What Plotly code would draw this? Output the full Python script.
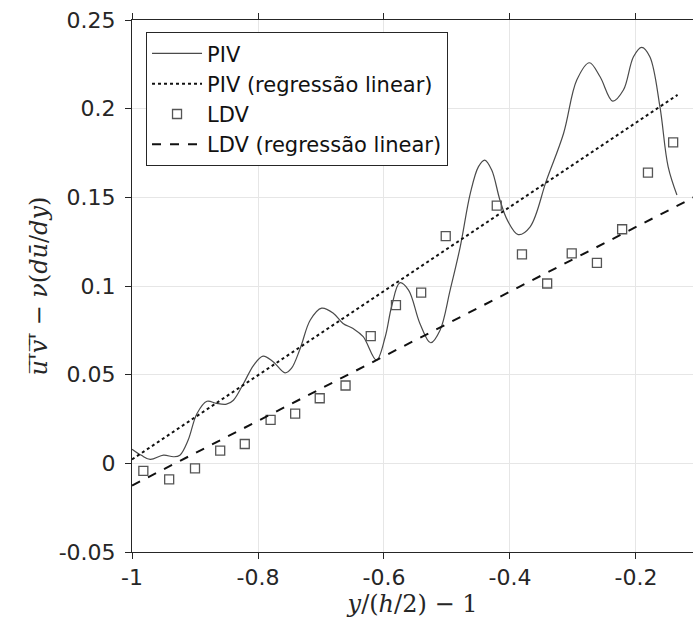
import plotly.graph_objects as go

# PIV profile (traced)
piv_x = [-1.0, -0.985, -0.971, -0.950, -0.934, -0.924, -0.911, -0.897, -0.881, -0.866,
         -0.850, -0.839, -0.823, -0.807, -0.792, -0.776, -0.757, -0.747, -0.733, -0.717,
         -0.699, -0.680, -0.665, -0.649, -0.633, -0.612, -0.598, -0.588, -0.575, -0.561,
         -0.543, -0.526, -0.511, -0.495, -0.479, -0.463, -0.450, -0.440, -0.429, -0.416,
         -0.404, -0.387, -0.368, -0.342, -0.315, -0.294, -0.274, -0.257, -0.237, -0.220,
         -0.204, -0.191, -0.178, -0.162, -0.149, -0.135]
piv_y = [0.008, 0.0045, 0.0022, 0.0046, 0.0037, 0.0046, 0.013, 0.028, 0.035, 0.0338,
         0.0334, 0.0356, 0.045, 0.0553, 0.0605, 0.0573, 0.051, 0.0535, 0.0648, 0.0808,
         0.0875, 0.0845, 0.0789, 0.076, 0.0714, 0.0582, 0.0714, 0.0883, 0.1018, 0.0977,
         0.0789, 0.068, 0.0751, 0.0977, 0.1221, 0.1522, 0.1673, 0.171, 0.1654, 0.1485,
         0.137, 0.129, 0.1334, 0.1597, 0.186, 0.2161, 0.2259, 0.218, 0.2043, 0.2105,
         0.2293, 0.2346, 0.2293, 0.2011, 0.1673, 0.1513]

# PIV linear regression (end points)
piv_reg_x = [-1.0, -0.134]
piv_reg_y = [0.0022, 0.2078]

# LDV points
ldv_x = [-0.982, -0.941, -0.900, -0.860, -0.821, -0.780, -0.741, -0.702, -0.661, -0.621,
         -0.581, -0.541, -0.502, -0.421, -0.381, -0.341, -0.302, -0.262, -0.222, -0.181, -0.141]
ldv_y = [-0.0043, -0.009, -0.0028, 0.0072, 0.0109, 0.0245, 0.028, 0.0367, 0.0439, 0.0717,
         0.0892, 0.0963, 0.1281, 0.1453, 0.1178, 0.1014, 0.1184, 0.113, 0.132, 0.1639, 0.181]

# LDV linear regression (end points)
ldv_reg_x = [-1.0, -0.10]
ldv_reg_y = [-0.0125, 0.1515]

x_ticks = [-1, -0.8, -0.6, -0.4, -0.2]
x_tick_text = ["-1", "-0.8", "-0.6", "-0.4", "-0.2"]
y_ticks = [-0.05, 0, 0.05, 0.1, 0.15, 0.2, 0.25]
y_tick_text = ["-0.05", "0", "0.05", "0.1", "0.15", "0.2", "0.25"]

axis_col = "#262626"
fig = go.Figure()
fig.add_trace(go.Scatter(x=piv_x, y=piv_y, mode="lines", name="PIV",
                         line=dict(color="#4a4a4a", width=1.2, shape="spline", smoothing=1.0)))
fig.add_trace(go.Scatter(x=piv_reg_x, y=piv_reg_y, mode="lines", name="PIV (regressão linear)",
                         line=dict(color="#111111", width=2, dash="dot")))
fig.add_trace(go.Scatter(x=ldv_x, y=ldv_y, mode="markers", name="LDV",
                         marker=dict(symbol="square-open", size=9, color="#555555",
                                     line=dict(width=1.3, color="#555555"))))
fig.add_trace(go.Scatter(x=ldv_reg_x, y=ldv_reg_y, mode="lines", name="LDV (regressão linear)",
                         line=dict(color="#111111", width=2, dash="dash")))

fig.update_layout(
    width=693, height=626,
    margin=dict(l=132, r=0, t=20, b=74),
    plot_bgcolor="white", paper_bgcolor="white",
    font=dict(family="DejaVu Sans", color=axis_col, size=22),
    showlegend=True,
    legend=dict(x=0.025, y=0.977, xanchor="left", yanchor="top",
                bgcolor="white", bordercolor=axis_col, borderwidth=1,
                font=dict(size=21, family="DejaVu Sans", color="#111111"),
                itemwidth=50, tracegroupgap=0),
)
fig.update_xaxes(range=[-1, -0.1095], tickvals=x_ticks, ticktext=x_tick_text,
                 showgrid=True, gridcolor="#e6e6e6", gridwidth=1,
                 showline=True, linecolor=axis_col, linewidth=1, mirror="allticks",
                 ticks="outside", ticklen=6, tickcolor=axis_col, zeroline=False,
                 tickfont=dict(size=22),
                 title=dict(text="<i>y</i>/(<i>h</i>/2) − 1",
                            font=dict(family="DejaVu Serif", size=24), standoff=0))
fig.update_yaxes(range=[-0.05, 0.25], tickvals=y_ticks, ticktext=y_tick_text,
                 showgrid=True, gridcolor="#e6e6e6", gridwidth=1,
                 showline=True, linecolor=axis_col, linewidth=1, mirror=False,
                 ticks="outside", ticklen=6, tickcolor=axis_col, zeroline=False,
                 tickfont=dict(size=22), ticklabelstandoff=5,
                 title=dict(text="<i>u\u0305'\u0305v\u0305'\u0305</i> − <i>ν</i>(<i>dū</i>/<i>dy</i>)",
                            font=dict(family="DejaVu Serif", size=24), standoff=4))

fig.write_html("out.html")
